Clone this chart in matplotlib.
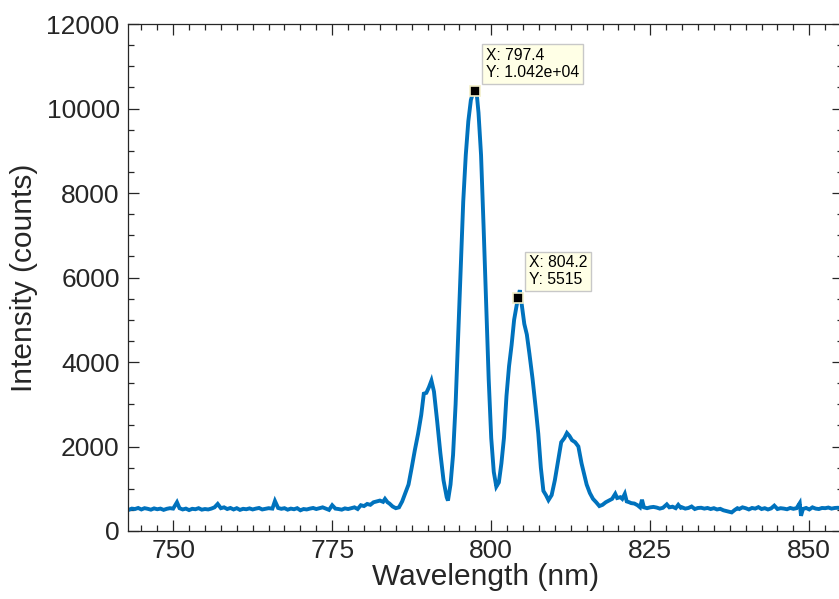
import matplotlib
matplotlib.use("Agg")
import matplotlib.pyplot as plt
from matplotlib.ticker import MultipleLocator

plt.rcParams['font.family'] = ['Liberation Sans', 'DejaVu Sans']

wavelength = [
    743, 743.5, 744, 744.5, 745, 745.5, 746, 746.5, 747, 747.5, 748, 748.5, 749, 749.5,
    750, 750.6, 751, 751.5, 752, 752.5, 753, 753.5, 754, 754.5, 755, 755.5, 756, 756.5,
    757, 757.5, 758, 758.5, 759, 759.5, 760, 760.5, 761, 761.5, 762, 762.5, 763, 763.5,
    764, 764.5, 765, 765.6, 766, 766.5, 767, 767.5, 768, 768.5, 769, 769.5, 770, 770.5,
    771, 771.5, 772, 772.5, 773, 773.5, 774, 774.5, 775, 775.5, 776, 776.5, 777, 777.5,
    778, 778.5, 779, 779.5, 780, 780.5, 781, 781.5, 782, 782.5, 783, 783.3, 783.7, 784,
    784.5, 785, 785.5, 786, 786.5, 787, 787.5, 788, 788.5, 789, 789.4, 789.8, 790.2,
    790.6, 791, 791.5, 792, 792.5, 793, 793.2, 793.6, 794, 794.4, 794.8, 795.2, 795.6,
    796, 796.4, 796.8, 797.1, 797.4, 797.7, 798, 798.4, 798.8, 799.2, 799.6, 800, 800.4,
    800.8, 801.2, 801.6, 802, 802.4, 802.8, 803.2, 803.6, 804, 804.2, 804.5, 804.8, 805.2,
    805.6, 806, 806.5, 807, 807.4, 807.8, 808.2, 808.6, 809, 809.5, 810, 810.5, 811,
    811.5, 811.9, 812.3, 812.7, 813.2, 813.7, 814.2, 814.6, 815, 815.5, 816, 816.5, 817,
    817.5, 818, 818.5, 819, 819.5, 819.8, 820.3, 820.6, 821, 821.3, 821.7, 822, 822.5,
    823, 823.4, 823.7, 824, 824.5, 825, 825.5, 826, 826.5, 827, 827.6, 828, 828.5, 829,
    829.4, 829.8, 830, 830.5, 831, 831.5, 832, 832.5, 833, 833.5, 834, 834.5, 835, 835.5,
    836, 836.5, 837, 837.8, 838.3, 838.7, 839, 839.5, 840, 840.5, 841, 841.5, 842, 842.5,
    843, 843.5, 844, 844.5, 845, 845.5, 846, 846.5, 847, 847.5, 848, 848.5, 848.7, 849,
    849.5, 850, 850.5, 851, 851.5, 852, 852.5, 853, 853.5, 854, 854.5, 855,
]

intensity = [
    500, 530, 520, 545, 510, 540, 525, 505, 535, 515, 530, 500, 525, 540,
    530, 680, 540, 510, 530, 495, 525, 515, 540, 505, 520, 510, 530, 560,
    640, 540, 560, 520, 545, 510, 540, 500, 525, 515, 535, 510, 530, 545,
    510, 525, 540, 530, 710, 545, 525, 540, 505, 530, 515, 540, 490, 520,
    510, 530, 545, 520, 540, 560, 530, 500, 610, 530, 520, 505, 535, 520,
    540, 560, 520, 610, 590, 640, 620, 680, 700, 720, 690, 760, 680, 650,
    580, 540, 560, 700, 900, 1100, 1500, 1920, 2300, 2750, 3250, 3270, 3400,
    3560, 3300, 2600, 1850, 1200, 800, 720, 1100, 1800, 3000, 4600, 6200, 7800,
    8900, 9700, 10200, 10350, 10420, 10380, 9900, 8900, 7200, 5400, 3600, 2200, 1400,
    1050, 1150, 1600, 2200, 3200, 3900, 4400, 5000, 5350, 5515, 5700, 5350, 4900,
    4650, 4200, 3600, 2900, 2300, 1500, 950, 850, 730, 850, 1200, 1650, 2100,
    2200, 2320, 2250, 2150, 2100, 2000, 1600, 1350, 1100, 900, 760, 680, 590,
    620, 680, 720, 760, 880, 780, 800, 760, 880, 700, 680, 660, 650,
    610, 560, 740, 560, 540, 560, 570, 555, 530, 550, 630, 560, 575, 540,
    620, 550, 560, 530, 545, 580, 520, 545, 550, 530, 545, 520, 540, 510,
    525, 490, 470, 440, 500, 540, 520, 560, 540, 510, 545, 530, 565, 520,
    540, 510, 535, 600, 520, 540, 530, 515, 545, 525, 540, 660, 360, 520,
    545, 510, 560, 530, 520, 545, 540, 555, 530, 545, 550, 540,
]

tip_x = [797.4, 804.2]
tip_y = [10420, 5515]
tip_labels = ["X: 797.4\nY: 1.042e+04", "X: 804.2\nY: 5515"]

x_ticks = [750, 775, 800, 825, 850]
y_ticks = [0, 2000, 4000, 6000, 8000, 10000, 12000]

W, H = 839, 599
fig = plt.figure(figsize=(W / 100, H / 100), dpi=100)
ax = fig.add_axes([128 / W, (H - 531) / H, (843 - 128) / W, (531 - 24) / H])

ax.plot(wavelength, intensity, color='#0072BD', lw=2.8, solid_joinstyle='miter')

for x, y, lab in zip(tip_x, tip_y, tip_labels):
    ax.plot([x], [y], marker='s', ms=7.5, mfc='black', mec='#F2EFC8', mew=1.2, zorder=5)
    ax.annotate(lab, xy=(x, y), xytext=(8, 8), textcoords='offset points',
                fontsize=11.3, color='black', ha='left', va='bottom', linespacing=1.12,
                bbox=dict(boxstyle='square,pad=0.25', fc='#FFFFE6', ec='#C8C8C8', lw=1.0),
                zorder=6)

ax.set_xlim(742.9, 855.3)
ax.set_ylim(0, 12000)
ax.set_xticks(x_ticks)
ax.set_yticks(y_ticks)
ax.xaxis.set_minor_locator(MultipleLocator(2.5))
ax.yaxis.set_minor_locator(MultipleLocator(500))
ax.tick_params(which='both', direction='in', top=True, right=True, color='#262626',
               width=0.9, labelsize=19, labelcolor='#262626')
ax.tick_params(which='major', length=8, pad=6)
ax.tick_params(which='minor', length=4)
for s in ax.spines.values():
    s.set_color('#262626')
    s.set_linewidth(0.9)

ax.set_xlabel('Wavelength (nm)', fontsize=21.5, color='#262626', labelpad=0)
ax.set_ylabel('Intensity (counts)', fontsize=21.5, color='#262626', labelpad=6)

fig.savefig('out.png', dpi=100)
